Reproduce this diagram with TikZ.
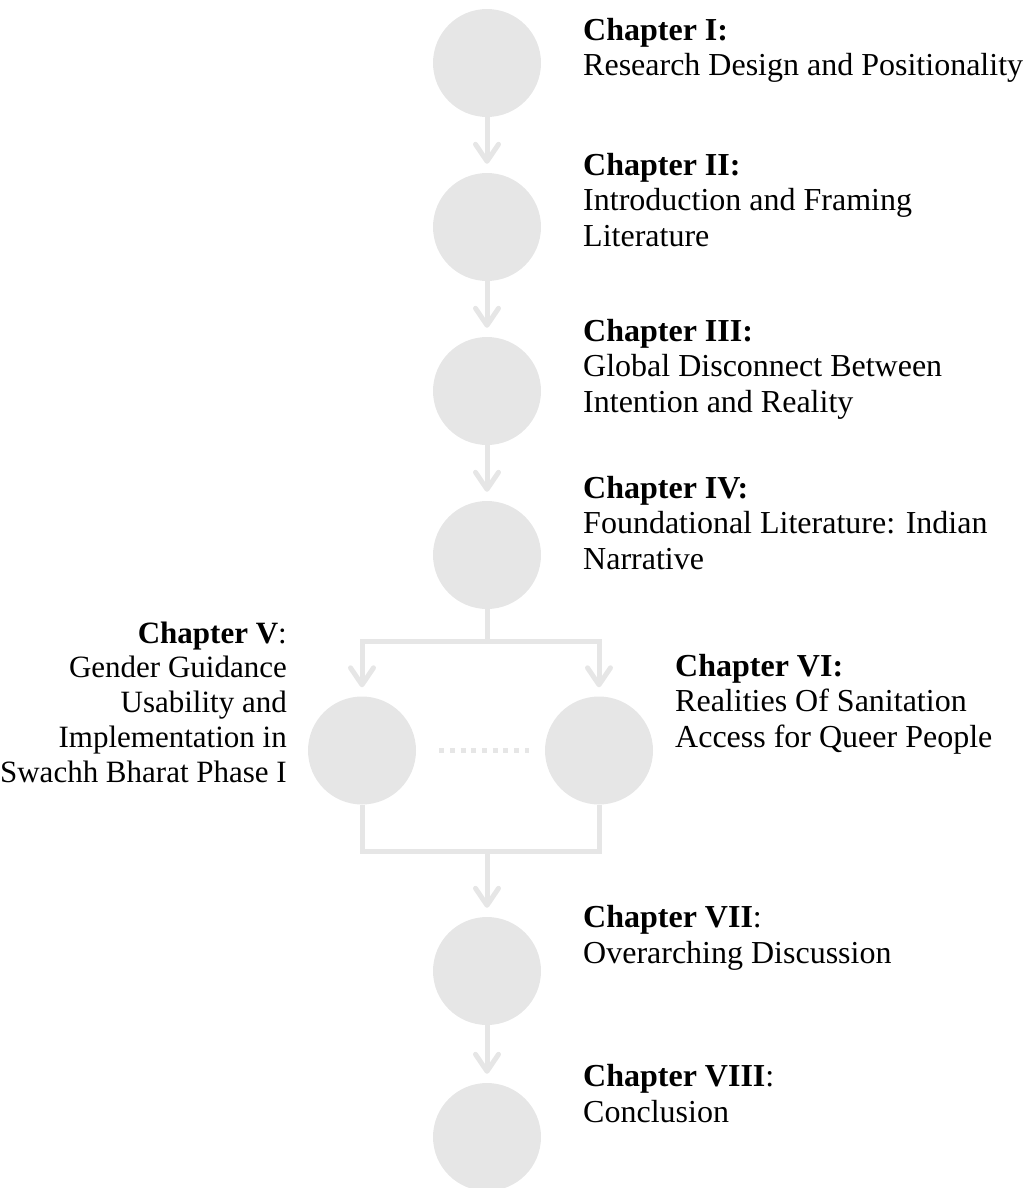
\documentclass[tikz,border=0pt]{standalone}
\usepackage{fontspec}
\setmainfont{Liberation Serif}
\usetikzlibrary{arrows.meta}
\definecolor{cgray}{RGB}{230,230,230}
\tikzset{
  chap/.style={circle, fill=cgray, minimum size=108pt, inner sep=0pt},
  conn/.style={draw=cgray, line width=5pt},
  arr/.style={conn, -{Straight Barb[length=17pt,width=23pt,line cap=round,line join=round]}, shorten >=9pt},
  dotline/.style={draw=cgray, line width=5pt, dash pattern=on 5pt off 5.7pt, shorten <=23pt, shorten >=16pt},
  lbl/.style={anchor=base west, align=left, inner sep=0pt, font=\fontsize{32}{35.3}\selectfont},
  lblr/.style={anchor=base east, align=right, inner sep=0pt, font=\fontsize{31}{34.7}\selectfont}
}
\begin{document}
\begin{tikzpicture}[x=1pt,y=-1pt]
\useasboundingbox (0,0) rectangle (1034,1188);
% circles
\node[chap] (c1) at (487,63) {};
\node[chap] (c2) at (487,227) {};
\node[chap] (c3) at (487,391) {};
\node[chap] (c4) at (487,555) {};
\node[chap] (c5) at (362,750.5) {};
\node[chap] (c6) at (599,750.5) {};
\node[chap] (c7) at (487,971) {};
\node[chap] (c8) at (487,1137) {};
\coordinate (b1) at (487,641);
\coordinate (b2) at (487,851.5);
% connectors
\draw[arr] (c1) -- (c2);
\draw[arr] (c2) -- (c3);
\draw[arr] (c3) -- (c4);
\draw[conn] (c4) -- (b1);
\draw[arr] (b1) -| (c5);
\draw[arr] (b1) -| (c6);
\draw[dotline] (c5) -- (c6);
\draw[conn] (c5) |- (b2);
\draw[conn] (c6) |- (b2);
\draw[arr] (b2) -- (c7);
\draw[arr] (c7) -- (c8);
% labels (anchored at the baseline of the last line)
\node[lbl] (t1) at (583,76) {\textbf{Chapter I:}\\Research Design and Positionality};
\node[lbl] (t2) at (583,246) {\textbf{Chapter II:}\\Introduction and Framing\\Literature};
\node[lbl] (t3) at (583,412) {\textbf{Chapter III:}\\Global Disconnect Between\\Intention and Reality};
\node[lbl] (t4) at (583,569) {\textbf{Chapter IV:}\\Foundational Literature: Indian\\Narrative};
\node[lblr] (t5) at (287,782) {\textbf{Chapter V}:\\Gender Guidance\\Usability and\\Implementation in\\Swachh Bharat Phase I};
\node[lbl] (t6) at (675,747) {\textbf{Chapter VI:}\\Realities Of Sanitation\\Access for Queer People};
\node[lbl] (t7) at (583,963) {\textbf{Chapter VII}:\\Overarching Discussion};
\node[lbl] (t8) at (583,1122) {\textbf{Chapter VIII}:\\Conclusion};
\end{tikzpicture}
\end{document}
